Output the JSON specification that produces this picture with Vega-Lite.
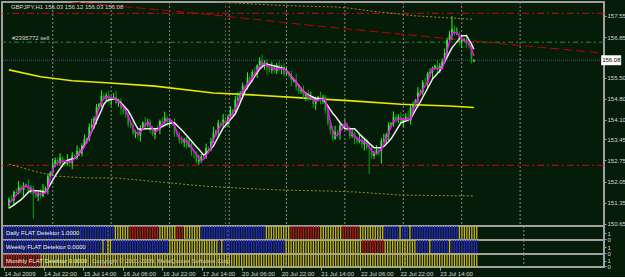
{
"$schema": "https://vega.github.io/schema/vega-lite/v6.json",
"background": "#041c08",
"padding": {"left": 0, "top": 0, "right": 0, "bottom": 0},
"bounds": "flush",
"spacing": 0,
"resolve": {"scale": {"color": "independent", "strokeDash": "independent"}},
"config": {
  "view": {"stroke": "#a0a0a0", "strokeWidth": 2, "fill": "#041c08"},
  "axis": {"labelFont": "Liberation Sans", "labelFontSize": 6, "labelColor": "#d8d8d8", "tickColor": "#a0a0a0", "domain": false, "grid": false, "title": null}
},
"datasets": {
  "grid": [{"i":18},{"i":42},{"i":66},{"i":90.5},{"i":114},{"i":138},{"i":162},{"i":186},{"i":210}],
  "yl": [{"i":0,"p":155.76},{"i":13,"p":155.53},{"i":26,"p":155.40},{"i":40,"p":155.33},{"i":60,"p":155.22},{"i":84,"p":154.99},{"i":100,"p":154.93},{"i":120,"p":154.83},{"i":141,"p":154.73},{"i":161,"p":154.62},{"i":181,"p":154.56},{"i":191,"p":154.51}],
  "ch": [
    {"g":"ru","i":-0.8,"p":158.23},{"g":"ru","i":31.5,"p":157.98},{"g":"ru","i":80,"p":157.62},{"g":"ru","i":120.4,"p":157.27},{"g":"ru","i":160.8,"p":156.95},{"g":"ru","i":201.2,"p":156.64},{"g":"ru","i":242.4,"p":156.33},
    {"g":"ou","i":60,"p":158.15},{"g":"ou","i":92,"p":157.99},{"g":"ou","i":107,"p":157.92},{"g":"ou","i":120,"p":157.88},{"g":"ou","i":134,"p":157.85},{"g":"ou","i":141,"p":157.80},{"g":"ou","i":150,"p":157.70},{"g":"ou","i":160,"p":157.62},{"g":"ou","i":166,"p":157.56},{"g":"ou","i":180,"p":157.49},{"g":"ou","i":191,"p":157.44},
    {"g":"ol","i":0,"p":152.63},{"g":"ol","i":10,"p":152.40},{"g":"ol","i":19,"p":152.23},{"g":"ol","i":32,"p":152.17},{"g":"ol","i":44,"p":152.17},{"g":"ol","i":80,"p":151.90},{"g":"ol","i":95,"p":151.83},{"g":"ol","i":111,"p":151.77},{"g":"ol","i":133,"p":151.73},{"g":"ol","i":143,"p":151.70},{"g":"ol","i":161,"p":151.60},{"g":"ol","i":191,"p":151.57}
  ],
  "bars": [
{"i":0,"o":151.25,"h":151.53,"l":151.15,"c":151.45,"f":151.31,"s":151.17,"d":"b","w":"b","m":"r"},
{"i":1,"o":151.45,"h":151.60,"l":151.36,"c":151.42,"f":151.40,"s":151.22,"d":"b","w":"b","m":"r"},
{"i":2,"o":151.42,"h":151.75,"l":151.26,"c":151.70,"f":151.50,"s":151.27,"d":"b","w":"b","m":"r"},
{"i":3,"o":151.70,"h":151.82,"l":151.59,"c":151.67,"f":151.60,"s":151.33,"d":"b","w":"b","m":"r"},
{"i":4,"o":151.67,"h":152.07,"l":151.62,"c":151.87,"f":151.70,"s":151.39,"d":"b","w":"b","m":"r"},
{"i":5,"o":151.87,"h":151.94,"l":151.64,"c":151.77,"f":151.80,"s":151.45,"d":"b","w":"b","m":"r"},
{"i":6,"o":151.77,"h":152.02,"l":151.57,"c":151.92,"f":151.87,"s":151.53,"d":"b","w":"b","m":"r"},
{"i":7,"o":151.92,"h":151.98,"l":151.85,"c":151.94,"f":151.90,"s":151.61,"d":"b","w":"b","m":"r"},
{"i":8,"o":151.94,"h":152.12,"l":151.63,"c":151.74,"f":151.86,"s":151.70,"d":"b","w":"b","m":"r"},
{"i":9,"o":151.74,"h":151.92,"l":151.65,"c":151.83,"f":151.80,"s":151.74,"d":"b","w":"b","m":"r"},
{"i":10,"o":151.83,"h":151.91,"l":150.82,"c":151.62,"f":151.72,"s":151.74,"d":"b","w":"b","m":"r"},
{"i":11,"o":151.62,"h":151.77,"l":151.50,"c":151.56,"f":151.66,"s":151.74,"d":"b","w":"b","m":"r"},
{"i":12,"o":151.56,"h":151.73,"l":151.40,"c":151.68,"f":151.63,"s":151.74,"d":"b","w":"b","m":"r"},
{"i":13,"o":151.68,"h":151.80,"l":151.49,"c":151.57,"f":151.63,"s":151.73,"d":"b","w":"b","m":"r"},
{"i":14,"o":151.57,"h":151.97,"l":151.52,"c":151.77,"f":151.65,"s":151.71,"d":"b","w":"b","m":"r"},
{"i":15,"o":151.77,"h":151.89,"l":151.64,"c":151.82,"f":151.67,"s":151.70,"d":"b","w":"b","m":"y"},
{"i":16,"o":151.82,"h":152.32,"l":151.62,"c":152.22,"f":151.85,"s":151.82,"d":"b","w":"b","m":"y"},
{"i":17,"o":152.22,"h":152.39,"l":152.15,"c":152.35,"f":152.15,"s":151.96,"d":"b","w":"b","m":"y"},
{"i":18,"o":152.35,"h":152.80,"l":152.24,"c":152.62,"f":152.45,"s":152.10,"d":"b","w":"b","m":"y"},
{"i":19,"o":152.62,"h":152.85,"l":152.53,"c":152.76,"f":152.60,"s":152.24,"d":"b","w":"b","m":"y"},
{"i":20,"o":152.76,"h":152.84,"l":152.56,"c":152.66,"f":152.68,"s":152.36,"d":"b","w":"b","m":"y"},
{"i":21,"o":152.66,"h":152.99,"l":152.60,"c":152.84,"f":152.72,"s":152.48,"d":"b","w":"b","m":"y"},
{"i":22,"o":152.84,"h":152.89,"l":152.52,"c":152.68,"f":152.73,"s":152.59,"d":"b","w":"b","m":"y"},
{"i":23,"o":152.68,"h":152.80,"l":152.55,"c":152.63,"f":152.72,"s":152.69,"d":"b","w":"b","m":"y"},
{"i":24,"o":152.63,"h":152.96,"l":152.58,"c":152.76,"f":152.70,"s":152.75,"d":"b","w":"b","m":"y"},
{"i":25,"o":152.76,"h":152.83,"l":152.53,"c":152.66,"f":152.71,"s":152.78,"d":"b","w":"b","m":"y"},
{"i":26,"o":152.66,"h":153.02,"l":152.46,"c":152.92,"f":152.74,"s":152.80,"d":"b","w":"b","m":"y"},
{"i":27,"o":152.92,"h":152.96,"l":152.82,"c":152.89,"f":152.82,"s":152.82,"d":"b","w":"b","m":"y"},
{"i":28,"o":152.89,"h":153.25,"l":152.78,"c":153.07,"f":152.92,"s":152.88,"d":"b","w":"b","m":"y"},
{"i":29,"o":153.07,"h":153.16,"l":152.89,"c":152.98,"f":153.00,"s":153.00,"d":"b","w":"b","m":"y"},
{"i":30,"o":152.98,"h":153.32,"l":152.88,"c":153.24,"f":153.08,"s":153.12,"d":"b","w":"b","m":"y"},
{"i":31,"o":153.24,"h":153.61,"l":153.18,"c":153.46,"f":153.22,"s":153.25,"d":"b","w":"b","m":"y"},
{"i":32,"o":153.46,"h":153.51,"l":153.30,"c":153.46,"f":153.38,"s":153.38,"d":"b","w":"b","m":"y"},
{"i":33,"o":153.46,"h":153.98,"l":153.38,"c":153.86,"f":153.52,"s":153.55,"d":"b","w":"b","m":"y"},
{"i":34,"o":153.86,"h":154.14,"l":153.81,"c":153.94,"f":153.75,"s":153.72,"d":"b","w":"b","m":"y"},
{"i":35,"o":153.94,"h":154.22,"l":153.81,"c":154.15,"f":153.98,"s":153.88,"d":"b","w":"b","m":"y"},
{"i":36,"o":154.15,"h":154.63,"l":153.95,"c":154.53,"f":154.22,"s":154.06,"d":"b","w":"b","m":"y"},
{"i":37,"o":154.53,"h":154.66,"l":154.46,"c":154.62,"f":154.48,"s":154.24,"d":"b","w":"b","m":"y"},
{"i":38,"o":154.62,"h":155.08,"l":154.51,"c":154.90,"f":154.70,"s":154.42,"d":"b","w":"b","m":"y"},
{"i":39,"o":154.90,"h":154.99,"l":154.74,"c":154.83,"f":154.80,"s":154.62,"d":"b","w":"b","m":"y"},
{"i":40,"o":154.83,"h":155.00,"l":154.73,"c":154.92,"f":154.86,"s":154.72,"d":"b","w":"y","m":"y"},
{"i":41,"o":154.92,"h":155.07,"l":154.67,"c":154.73,"f":154.85,"s":154.76,"d":"b","w":"b","m":"y"},
{"i":42,"o":154.73,"h":154.88,"l":154.57,"c":154.83,"f":154.83,"s":154.78,"d":"b","w":"y","m":"y"},
{"i":43,"o":154.83,"h":154.99,"l":154.75,"c":154.87,"f":154.81,"s":154.79,"d":"b","w":"y","m":"y"},
{"i":44,"o":154.87,"h":155.07,"l":154.61,"c":154.66,"f":154.79,"s":154.79,"d":"b","w":"b","m":"y"},
{"i":45,"o":154.66,"h":154.80,"l":154.53,"c":154.73,"f":154.72,"s":154.74,"d":"y","w":"b","m":"y"},
{"i":46,"o":154.73,"h":154.83,"l":154.27,"c":154.47,"f":154.62,"s":154.66,"d":"y","w":"b","m":"y"},
{"i":47,"o":154.47,"h":154.51,"l":154.26,"c":154.33,"f":154.51,"s":154.58,"d":"y","w":"b","m":"y"},
{"i":48,"o":154.33,"h":154.51,"l":154.16,"c":154.27,"f":154.40,"s":154.49,"d":"y","w":"b","m":"y"},
{"i":49,"o":154.27,"h":154.36,"l":153.85,"c":153.94,"f":154.22,"s":154.40,"d":"y","w":"b","m":"y"},
{"i":50,"o":153.94,"h":154.02,"l":153.82,"c":153.92,"f":154.02,"s":154.26,"d":"y","w":"b","m":"y"},
{"i":51,"o":153.92,"h":154.07,"l":153.59,"c":153.65,"f":153.82,"s":154.10,"d":"r","w":"b","m":"y"},
{"i":52,"o":153.65,"h":153.75,"l":153.49,"c":153.70,"f":153.68,"s":153.94,"d":"r","w":"b","m":"y"},
{"i":53,"o":153.70,"h":153.82,"l":153.45,"c":153.58,"f":153.63,"s":153.80,"d":"r","w":"b","m":"y"},
{"i":54,"o":153.58,"h":153.92,"l":153.38,"c":153.82,"f":153.68,"s":153.79,"d":"r","w":"b","m":"y"},
{"i":55,"o":153.82,"h":154.05,"l":153.75,"c":154.01,"f":153.80,"s":153.79,"d":"r","w":"b","m":"y"},
{"i":56,"o":154.01,"h":154.19,"l":153.83,"c":153.94,"f":153.93,"s":153.80,"d":"r","w":"b","m":"y"},
{"i":57,"o":153.94,"h":154.13,"l":153.85,"c":154.04,"f":154.00,"s":153.80,"d":"r","w":"b","m":"y"},
{"i":58,"o":154.04,"h":154.12,"l":153.66,"c":153.76,"f":153.93,"s":153.80,"d":"r","w":"b","m":"y"},
{"i":59,"o":153.76,"h":153.91,"l":153.55,"c":153.61,"f":153.80,"s":153.80,"d":"r","w":"b","m":"y"},
{"i":60,"o":153.61,"h":153.84,"l":153.45,"c":153.79,"f":153.68,"s":153.80,"d":"r","w":"b","m":"y"},
{"i":61,"o":153.79,"h":153.94,"l":153.72,"c":153.78,"f":153.74,"s":153.80,"d":"r","w":"b","m":"y"},
{"i":62,"o":153.78,"h":154.11,"l":153.62,"c":154.06,"f":153.86,"s":153.84,"d":"r","w":"b","m":"y"},
{"i":63,"o":154.06,"h":154.18,"l":153.93,"c":154.01,"f":153.96,"s":153.88,"d":"y","w":"b","m":"y"},
{"i":64,"o":154.01,"h":154.37,"l":153.96,"c":154.17,"f":154.04,"s":153.92,"d":"y","w":"b","m":"y"},
{"i":65,"o":154.17,"h":154.24,"l":153.90,"c":154.03,"f":154.10,"s":153.96,"d":"y","w":"b","m":"y"},
{"i":66,"o":154.03,"h":154.17,"l":153.83,"c":154.07,"f":154.13,"s":153.98,"d":"y","w":"b","m":"y"},
{"i":67,"o":154.07,"h":154.11,"l":153.91,"c":153.98,"f":154.05,"s":154.00,"d":"y","w":"y","m":"y"},
{"i":68,"o":153.98,"h":154.16,"l":153.53,"c":153.64,"f":153.90,"s":154.00,"d":"y","w":"y","m":"y"},
{"i":69,"o":153.64,"h":153.73,"l":153.52,"c":153.61,"f":153.70,"s":153.92,"d":"y","w":"y","m":"y"},
{"i":70,"o":153.61,"h":153.69,"l":153.31,"c":153.41,"f":153.50,"s":153.84,"d":"r","w":"y","m":"y"},
{"i":71,"o":153.41,"h":153.56,"l":153.29,"c":153.35,"f":153.45,"s":153.76,"d":"r","w":"y","m":"y"},
{"i":72,"o":153.35,"h":153.50,"l":153.19,"c":153.45,"f":153.42,"s":153.67,"d":"r","w":"y","m":"y"},
{"i":73,"o":153.45,"h":153.57,"l":153.14,"c":153.22,"f":153.40,"s":153.58,"d":"y","w":"y","m":"y"},
{"i":74,"o":153.22,"h":153.48,"l":153.17,"c":153.28,"f":153.30,"s":153.49,"d":"y","w":"y","m":"y"},
{"i":75,"o":153.28,"h":153.35,"l":152.91,"c":153.04,"f":153.18,"s":153.40,"d":"y","w":"y","m":"y"},
{"i":76,"o":153.04,"h":153.14,"l":152.82,"c":153.02,"f":153.07,"s":153.30,"d":"y","w":"y","m":"y"},
{"i":77,"o":153.02,"h":153.06,"l":152.65,"c":152.72,"f":152.95,"s":153.21,"d":"y","w":"y","m":"y"},
{"i":78,"o":152.72,"h":152.94,"l":152.61,"c":152.76,"f":152.82,"s":153.12,"d":"y","w":"y","m":"y"},
{"i":79,"o":152.76,"h":152.97,"l":152.67,"c":152.88,"f":152.74,"s":153.02,"d":"y","w":"y","m":"y"},
{"i":80,"o":152.88,"h":152.96,"l":152.76,"c":152.86,"f":152.80,"s":152.93,"d":"b","w":"y","m":"y"},
{"i":81,"o":152.86,"h":153.31,"l":152.80,"c":153.16,"f":152.92,"s":152.99,"d":"b","w":"y","m":"y"},
{"i":82,"o":153.16,"h":153.21,"l":152.97,"c":153.13,"f":153.05,"s":153.07,"d":"b","w":"y","m":"y"},
{"i":83,"o":153.13,"h":153.50,"l":153.05,"c":153.38,"f":153.17,"s":153.15,"d":"b","w":"y","m":"y"},
{"i":84,"o":153.38,"h":153.87,"l":153.33,"c":153.67,"f":153.45,"s":153.23,"d":"b","w":"y","m":"y"},
{"i":85,"o":153.67,"h":153.77,"l":153.54,"c":153.70,"f":153.62,"s":153.38,"d":"b","w":"y","m":"y"},
{"i":86,"o":153.70,"h":154.10,"l":153.50,"c":154.00,"f":153.78,"s":153.53,"d":"b","w":"y","m":"y"},
{"i":87,"o":154.00,"h":154.04,"l":153.90,"c":153.97,"f":153.90,"s":153.68,"d":"b","w":"b","m":"y"},
{"i":88,"o":153.97,"h":154.29,"l":153.86,"c":154.11,"f":154.00,"s":153.83,"d":"b","w":"y","m":"y"},
{"i":89,"o":154.11,"h":154.20,"l":153.87,"c":153.96,"f":154.04,"s":153.92,"d":"b","w":"b","m":"y"},
{"i":90,"o":153.96,"h":154.28,"l":153.86,"c":154.20,"f":154.06,"s":154.02,"d":"b","w":"b","m":"y"},
{"i":91,"o":154.20,"h":154.55,"l":154.14,"c":154.40,"f":154.18,"s":154.11,"d":"b","w":"b","m":"y"},
{"i":92,"o":154.40,"h":154.45,"l":154.24,"c":154.40,"f":154.32,"s":154.20,"d":"b","w":"b","m":"y"},
{"i":93,"o":154.40,"h":154.89,"l":154.32,"c":154.77,"f":154.46,"s":154.30,"d":"b","w":"b","m":"y"},
{"i":94,"o":154.77,"h":155.02,"l":154.72,"c":154.82,"f":154.66,"s":154.48,"d":"b","w":"b","m":"y"},
{"i":95,"o":154.82,"h":155.06,"l":154.69,"c":154.99,"f":154.86,"s":154.67,"d":"b","w":"b","m":"y"},
{"i":96,"o":154.99,"h":155.33,"l":154.79,"c":155.23,"f":155.06,"s":154.86,"d":"b","w":"b","m":"y"},
{"i":97,"o":155.23,"h":155.27,"l":155.15,"c":155.22,"f":155.18,"s":155.06,"d":"b","w":"b","m":"y"},
{"i":98,"o":155.22,"h":155.68,"l":155.11,"c":155.50,"f":155.30,"s":155.18,"d":"b","w":"b","m":"y"},
{"i":99,"o":155.50,"h":155.59,"l":155.37,"c":155.46,"f":155.40,"s":155.30,"d":"b","w":"b","m":"y"},
{"i":100,"o":155.46,"h":155.77,"l":155.36,"c":155.69,"f":155.49,"s":155.42,"d":"b","w":"b","m":"y"},
{"i":101,"o":155.69,"h":155.84,"l":155.59,"c":155.65,"f":155.62,"s":155.55,"d":"b","w":"b","m":"y"},
{"i":102,"o":155.65,"h":155.95,"l":155.49,"c":155.90,"f":155.75,"s":155.67,"d":"b","w":"b","m":"y"},
{"i":103,"o":155.90,"h":156.19,"l":155.82,"c":156.07,"f":155.88,"s":155.79,"d":"b","w":"b","m":"y"},
{"i":104,"o":156.07,"h":156.27,"l":155.85,"c":155.90,"f":155.99,"s":155.86,"d":"b","w":"b","m":"y"},
{"i":105,"o":155.90,"h":156.08,"l":155.77,"c":156.01,"f":155.96,"s":155.93,"d":"b","w":"b","m":"y"},
{"i":106,"o":156.01,"h":156.11,"l":155.61,"c":155.81,"f":155.90,"s":155.95,"d":"y","w":"b","m":"y"},
{"i":107,"o":155.81,"h":155.85,"l":155.68,"c":155.75,"f":155.85,"s":155.93,"d":"y","w":"b","m":"y"},
{"i":108,"o":155.75,"h":156.03,"l":155.64,"c":155.85,"f":155.82,"s":155.91,"d":"y","w":"b","m":"y"},
{"i":109,"o":155.85,"h":155.94,"l":155.63,"c":155.72,"f":155.80,"s":155.89,"d":"y","w":"b","m":"y"},
{"i":110,"o":155.72,"h":155.99,"l":155.62,"c":155.91,"f":155.80,"s":155.87,"d":"y","w":"b","m":"y"},
{"i":111,"o":155.91,"h":156.06,"l":155.71,"c":155.77,"f":155.81,"s":155.85,"d":"y","w":"b","m":"y"},
{"i":112,"o":155.77,"h":155.91,"l":155.61,"c":155.86,"f":155.80,"s":155.82,"d":"y","w":"b","m":"y"},
{"i":113,"o":155.86,"h":155.98,"l":155.54,"c":155.62,"f":155.79,"s":155.80,"d":"y","w":"b","m":"y"},
{"i":114,"o":155.62,"h":155.85,"l":155.57,"c":155.65,"f":155.72,"s":155.74,"d":"y","w":"y","m":"y"},
{"i":115,"o":155.65,"h":155.72,"l":155.50,"c":155.63,"f":155.63,"s":155.64,"d":"y","w":"y","m":"y"},
{"i":116,"o":155.63,"h":155.73,"l":155.21,"c":155.41,"f":155.55,"s":155.54,"d":"r","w":"y","m":"y"},
{"i":117,"o":155.41,"h":155.48,"l":155.34,"c":155.44,"f":155.47,"s":155.44,"d":"r","w":"y","m":"y"},
{"i":118,"o":155.44,"h":155.62,"l":155.07,"c":155.18,"f":155.33,"s":155.34,"d":"r","w":"y","m":"y"},
{"i":119,"o":155.18,"h":155.27,"l":154.97,"c":155.06,"f":155.22,"s":155.24,"d":"r","w":"y","m":"y"},
{"i":120,"o":155.06,"h":155.17,"l":154.96,"c":155.09,"f":155.13,"s":155.14,"d":"r","w":"y","m":"y"},
{"i":121,"o":155.09,"h":155.24,"l":154.82,"c":154.88,"f":155.04,"s":155.04,"d":"r","w":"y","m":"y"},
{"i":122,"o":154.88,"h":155.04,"l":154.72,"c":154.99,"f":154.96,"s":154.97,"d":"r","w":"y","m":"y"},
{"i":123,"o":154.99,"h":155.11,"l":154.72,"c":154.80,"f":154.89,"s":154.93,"d":"r","w":"y","m":"y"},
{"i":124,"o":154.80,"h":155.04,"l":154.75,"c":154.84,"f":154.83,"s":154.89,"d":"r","w":"y","m":"y"},
{"i":125,"o":154.84,"h":154.91,"l":154.50,"c":154.63,"f":154.77,"s":154.85,"d":"r","w":"y","m":"y"},
{"i":126,"o":154.63,"h":154.87,"l":154.43,"c":154.77,"f":154.73,"s":154.82,"d":"r","w":"y","m":"y"},
{"i":127,"o":154.77,"h":154.90,"l":154.70,"c":154.86,"f":154.75,"s":154.81,"d":"r","w":"y","m":"y"},
{"i":128,"o":154.86,"h":155.04,"l":154.61,"c":154.72,"f":154.78,"s":154.80,"d":"y","w":"y","m":"y"},
{"i":129,"o":154.72,"h":154.94,"l":154.63,"c":154.85,"f":154.78,"s":154.79,"d":"y","w":"y","m":"y"},
{"i":130,"o":154.85,"h":154.93,"l":154.31,"c":154.41,"f":154.74,"s":154.68,"d":"y","w":"y","m":"y"},
{"i":131,"o":154.41,"h":154.56,"l":153.92,"c":153.98,"f":154.45,"s":154.56,"d":"y","w":"y","m":"y"},
{"i":132,"o":153.98,"h":154.03,"l":153.61,"c":153.77,"f":154.05,"s":154.44,"d":"y","w":"y","m":"y"},
{"i":133,"o":153.77,"h":153.89,"l":153.40,"c":153.48,"f":153.72,"s":154.32,"d":"y","w":"y","m":"y"},
{"i":134,"o":153.48,"h":153.90,"l":153.43,"c":153.70,"f":153.56,"s":154.23,"d":"y","w":"y","m":"y"},
{"i":135,"o":153.70,"h":153.77,"l":153.51,"c":153.64,"f":153.60,"s":154.12,"d":"y","w":"y","m":"y"},
{"i":136,"o":153.64,"h":154.02,"l":153.44,"c":153.92,"f":153.67,"s":154.01,"d":"y","w":"y","m":"y"},
{"i":137,"o":153.92,"h":153.96,"l":153.83,"c":153.90,"f":153.85,"s":153.90,"d":"r","w":"y","m":"y"},
{"i":138,"o":153.90,"h":154.10,"l":153.79,"c":153.92,"f":154.00,"s":153.80,"d":"r","w":"y","m":"y"},
{"i":139,"o":153.92,"h":154.01,"l":153.71,"c":153.80,"f":153.90,"s":153.80,"d":"r","w":"y","m":"y"},
{"i":140,"o":153.80,"h":153.88,"l":153.46,"c":153.56,"f":153.72,"s":153.80,"d":"r","w":"y","m":"y"},
{"i":141,"o":153.56,"h":153.81,"l":153.50,"c":153.66,"f":153.62,"s":153.80,"d":"r","w":"y","m":"y"},
{"i":142,"o":153.66,"h":153.71,"l":153.28,"c":153.44,"f":153.55,"s":153.80,"d":"r","w":"y","m":"y"},
{"i":143,"o":153.44,"h":153.56,"l":153.29,"c":153.37,"f":153.48,"s":153.72,"d":"r","w":"y","m":"y"},
{"i":144,"o":153.37,"h":153.65,"l":153.32,"c":153.45,"f":153.44,"s":153.63,"d":"y","w":"y","m":"y"},
{"i":145,"o":153.45,"h":153.52,"l":153.15,"c":153.28,"f":153.40,"s":153.55,"d":"y","w":"r","m":"y"},
{"i":146,"o":153.28,"h":153.51,"l":153.08,"c":153.41,"f":153.36,"s":153.47,"d":"y","w":"r","m":"y"},
{"i":147,"o":153.41,"h":153.45,"l":153.10,"c":153.17,"f":153.31,"s":153.40,"d":"y","w":"r","m":"y"},
{"i":148,"o":153.17,"h":153.35,"l":152.30,"c":153.15,"f":153.20,"s":153.32,"d":"y","w":"r","m":"y"},
{"i":149,"o":153.15,"h":153.24,"l":152.81,"c":152.90,"f":153.08,"s":153.25,"d":"y","w":"r","m":"y"},
{"i":150,"o":152.90,"h":153.07,"l":152.80,"c":152.99,"f":153.00,"s":153.17,"d":"y","w":"r","m":"y"},
{"i":151,"o":152.99,"h":153.26,"l":152.93,"c":153.11,"f":152.97,"s":153.17,"d":"y","w":"r","m":"y"},
{"i":152,"o":153.11,"h":153.15,"l":152.91,"c":153.07,"f":153.03,"s":153.17,"d":"y","w":"r","m":"y"},
{"i":153,"o":153.07,"h":153.50,"l":152.64,"c":153.41,"f":153.13,"s":153.17,"d":"y","w":"r","m":"y"},
{"i":154,"o":153.41,"h":153.64,"l":153.36,"c":153.44,"f":153.30,"s":153.22,"d":"b","w":"y","m":"y"},
{"i":155,"o":153.44,"h":153.67,"l":153.31,"c":153.60,"f":153.48,"s":153.30,"d":"b","w":"y","m":"y"},
{"i":156,"o":153.60,"h":154.03,"l":153.40,"c":153.93,"f":153.67,"s":153.38,"d":"b","w":"y","m":"y"},
{"i":157,"o":153.93,"h":154.02,"l":153.86,"c":153.98,"f":153.88,"s":153.47,"d":"b","w":"y","m":"y"},
{"i":158,"o":153.98,"h":154.38,"l":153.87,"c":154.20,"f":154.06,"s":153.60,"d":"b","w":"y","m":"y"},
{"i":159,"o":154.20,"h":154.29,"l":154.00,"c":154.09,"f":154.10,"s":153.73,"d":"b","w":"y","m":"y"},
{"i":160,"o":154.09,"h":154.28,"l":153.99,"c":154.20,"f":154.12,"s":153.87,"d":"y","w":"y","m":"y"},
{"i":161,"o":154.20,"h":154.35,"l":153.96,"c":154.02,"f":154.13,"s":154.00,"d":"b","w":"y","m":"y"},
{"i":162,"o":154.02,"h":154.18,"l":153.86,"c":154.13,"f":154.12,"s":154.03,"d":"b","w":"y","m":"y"},
{"i":163,"o":154.13,"h":154.32,"l":154.05,"c":154.20,"f":154.11,"s":154.06,"d":"b","w":"y","m":"y"},
{"i":164,"o":154.20,"h":154.40,"l":154.02,"c":154.07,"f":154.12,"s":154.10,"d":"y","w":"y","m":"y"},
{"i":165,"o":154.07,"h":154.60,"l":153.94,"c":154.51,"f":154.13,"s":154.13,"d":"b","w":"y","m":"y"},
{"i":166,"o":154.51,"h":154.70,"l":154.31,"c":154.60,"f":154.40,"s":154.28,"d":"b","w":"y","m":"y"},
{"i":167,"o":154.60,"h":154.79,"l":154.53,"c":154.75,"f":154.64,"s":154.43,"d":"b","w":"b","m":"y"},
{"i":168,"o":154.75,"h":155.19,"l":154.64,"c":155.01,"f":154.82,"s":154.56,"d":"b","w":"b","m":"y"},
{"i":169,"o":155.01,"h":155.11,"l":154.92,"c":155.02,"f":154.96,"s":154.70,"d":"b","w":"b","m":"y"},
{"i":170,"o":155.02,"h":155.42,"l":154.92,"c":155.34,"f":155.10,"s":154.85,"d":"b","w":"b","m":"y"},
{"i":171,"o":155.34,"h":155.49,"l":155.27,"c":155.33,"f":155.24,"s":155.00,"d":"b","w":"b","m":"y"},
{"i":172,"o":155.33,"h":155.70,"l":155.17,"c":155.65,"f":155.36,"s":155.15,"d":"b","w":"y","m":"y"},
{"i":173,"o":155.65,"h":155.81,"l":155.52,"c":155.69,"f":155.58,"s":155.30,"d":"b","w":"b","m":"y"},
{"i":174,"o":155.69,"h":155.87,"l":155.49,"c":155.83,"f":155.79,"s":155.46,"d":"b","w":"b","m":"y"},
{"i":175,"o":155.83,"h":155.94,"l":155.76,"c":155.90,"f":155.81,"s":155.55,"d":"b","w":"b","m":"y"},
{"i":176,"o":155.90,"h":156.08,"l":155.64,"c":155.75,"f":155.82,"s":155.64,"d":"b","w":"b","m":"y"},
{"i":177,"o":155.75,"h":155.99,"l":155.66,"c":155.90,"f":155.81,"s":155.72,"d":"b","w":"b","m":"y"},
{"i":178,"o":155.90,"h":156.14,"l":155.84,"c":156.04,"f":155.79,"s":155.87,"d":"b","w":"b","m":"y"},
{"i":179,"o":156.04,"h":156.47,"l":155.98,"c":156.32,"f":156.08,"s":156.03,"d":"b","w":"b","m":"y"},
{"i":180,"o":156.32,"h":156.83,"l":156.16,"c":156.75,"f":156.39,"s":156.18,"d":"b","w":"y","m":"y"},
{"i":181,"o":156.75,"h":157.06,"l":156.69,"c":156.91,"f":156.70,"s":156.34,"d":"b","w":"b","m":"y"},
{"i":182,"o":156.91,"h":157.55,"l":156.75,"c":157.11,"f":156.99,"s":156.49,"d":"b","w":"b","m":"y"},
{"i":183,"o":157.11,"h":157.23,"l":156.88,"c":156.96,"f":157.01,"s":156.59,"d":"b","w":"b","m":"y"},
{"i":184,"o":156.96,"h":157.17,"l":156.91,"c":156.97,"f":156.99,"s":156.69,"d":"y","w":"b","m":"y"},
{"i":185,"o":156.97,"h":157.04,"l":156.56,"c":156.69,"f":156.90,"s":156.79,"d":"y","w":"b","m":"y"},
{"i":186,"o":156.69,"h":156.86,"l":156.49,"c":156.76,"f":156.79,"s":156.89,"d":"y","w":"b","m":"y"},
{"i":187,"o":156.76,"h":156.82,"l":156.69,"c":156.78,"f":156.74,"s":156.89,"d":"y","w":"b","m":"y"},
{"i":188,"o":156.78,"h":156.96,"l":156.49,"c":156.60,"f":156.70,"s":156.89,"d":"y","w":"b","m":"y"},
{"i":189,"o":156.60,"h":156.69,"l":156.47,"c":156.56,"f":156.66,"s":156.76,"d":"y","w":"b","m":"y"},
{"i":190,"o":156.56,"h":156.66,"l":155.98,"c":156.05,"f":156.45,"s":156.62,"d":"y","w":"b","m":"y"},
{"i":191,"o":156.03,"h":156.12,"l":156.03,"c":156.08,"f":156.22,"s":156.45,"d":"y","w":"b","m":"y"}
  ]
},
"vconcat": [
  {
    "width": 602, "height": 224,
    "resolve": {"axis": {"x": "independent", "y": "independent"}},
    "layer": [
      {"data": {"name": "grid"}, "mark": {"type": "rule", "color": "#8a8a8a", "strokeDash": [2,2], "strokeWidth": 1},
       "encoding": {"x": {"field": "i", "type": "quantitative", "scale": {"domain": [-0.8, 242.4], "nice": false, "zero": false}, "axis": null}}},
      {"data": {"values": [{"i": 89}]}, "mark": {"type": "rule", "color": "#5c5c5c", "strokeDash": [2,2], "strokeWidth": 1},
       "encoding": {"x": {"field": "i", "type": "quantitative", "scale": {"domain": [-0.8, 242.4], "nice": false, "zero": false}, "axis": null}}},
      {"data": {"values": [{"p": 157.64}, {"p": 152.59}]}, "mark": {"type": "rule", "color": "#c80c0c", "strokeDash": [7,3,2,3], "strokeWidth": 1},
       "encoding": {"y": {"field": "p", "type": "quantitative", "scale": {"domain": [150.573, 158.015], "nice": false, "zero": false}, "axis": null}}},
      {"data": {"values": [{"p": 156.68}]}, "mark": {"type": "rule", "color": "#2a8c2a", "strokeDash": [5,3,2,3], "strokeWidth": 1},
       "encoding": {"y": {"field": "p", "type": "quantitative", "scale": {"domain": [150.573, 158.015], "nice": false, "zero": false}, "axis": null}}},
      {"data": {"values": [{"p": 156.08}]}, "mark": {"type": "rule", "color": "#50508c", "strokeDash": [1,1], "strokeWidth": 1},
       "encoding": {"y": {"field": "p", "type": "quantitative", "scale": {"domain": [150.573, 158.015], "nice": false, "zero": false}, "axis": null}}},
      {"data": {"name": "ch"}, "mark": {"type": "line", "clip": true, "strokeWidth": 1},
       "encoding": {
         "x": {"field": "i", "type": "quantitative", "scale": {"domain": [-0.8, 242.4], "nice": false, "zero": false}, "axis": null},
         "y": {"field": "p", "type": "quantitative", "scale": {"domain": [150.573, 158.015], "nice": false, "zero": false}, "axis": null},
         "color": {"field": "g", "type": "nominal", "scale": {"domain": ["ru","ou","ol"], "range": ["#c00000","#a08a28","#a08a28"]}, "legend": null},
         "strokeDash": {"field": "g", "type": "nominal", "scale": {"domain": ["ru","ou","ol"], "range": [[9,4],[2,2],[2,2]]}, "legend": null}}},
      {"data": {"name": "yl"}, "mark": {"type": "line", "clip": true, "color": "#e8e800", "strokeWidth": 1.6},
       "encoding": {
         "x": {"field": "i", "type": "quantitative", "scale": {"domain": [-0.8, 242.4], "nice": false, "zero": false}, "axis": null},
         "y": {"field": "p", "type": "quantitative", "scale": {"domain": [150.573, 158.015], "nice": false, "zero": false}, "axis": null}}},
      {"data": {"name": "bars"}, "mark": {"type": "rule", "strokeWidth": 1, "clip": true},
       "encoding": {
         "x": {"field": "i", "type": "quantitative", "scale": {"domain": [-0.8, 242.4], "nice": false, "zero": false}, "axis": null},
         "y": {"field": "l", "type": "quantitative", "scale": {"domain": [150.573, 158.015], "nice": false, "zero": false},
               "axis": {"orient": "right", "title": null, "values": [157.55,156.85,155.50,154.80,154.10,153.45,152.75,152.05,151.35,150.65], "format": ".2f", "tickSize": 2, "labelPadding": 1, "labelBaseline": "middle"}},
         "y2": {"field": "h"},
         "color": {"condition": {"test": "datum.c >= datum.o", "value": "#33f033"}, "value": "#129c12"}}},
      {"data": {"name": "bars"}, "mark": {"type": "bar", "size": 1.8, "clip": true},
       "encoding": {
         "x": {"field": "i", "type": "quantitative", "scale": {"domain": [-0.8, 242.4], "nice": false, "zero": false}, "axis": null},
         "y": {"field": "o", "type": "quantitative", "scale": {"domain": [150.573, 158.015], "nice": false, "zero": false}, "axis": null},
         "y2": {"field": "c"},
         "color": {"condition": {"test": "datum.c >= datum.o", "value": "#33f033"}, "value": "#129c12"}}},
      {"data": {"name": "bars"}, "mark": {"type": "line", "color": "#ececec", "strokeWidth": 1.5, "clip": true},
       "encoding": {
         "x": {"field": "i", "type": "quantitative", "scale": {"domain": [-0.8, 242.4], "nice": false, "zero": false}, "axis": null},
         "y": {"field": "s", "type": "quantitative", "scale": {"domain": [150.573, 158.015], "nice": false, "zero": false}, "axis": null}}},
      {"data": {"name": "bars"}, "mark": {"type": "line", "color": "#ff00ff", "strokeWidth": 1.5, "clip": true},
       "encoding": {
         "x": {"field": "i", "type": "quantitative", "scale": {"domain": [-0.8, 242.4], "nice": false, "zero": false}, "axis": null},
         "y": {"field": "f", "type": "quantitative", "scale": {"domain": [150.573, 158.015], "nice": false, "zero": false}, "axis": null}}},
      {"data": {"values": [{"t": "GBPJPY,H1  156.03 156.12 156.03 156.08", "p": 157.86}]}, "mark": {"type": "text", "align": "left", "baseline": "middle", "dx": 2, "font": "Liberation Sans", "fontSize": 6, "color": "#d8d8d8"},
       "encoding": {
         "x": {"datum": 0, "type": "quantitative", "scale": {"domain": [-0.8, 242.4], "nice": false, "zero": false}, "axis": null},
         "y": {"field": "p", "type": "quantitative", "scale": {"domain": [150.573, 158.015], "nice": false, "zero": false}, "axis": null},
         "text": {"field": "t"}}},
      {"data": {"values": [{"t": "#2395772 sell", "p": 156.82}]}, "mark": {"type": "text", "align": "left", "baseline": "middle", "dx": 3, "font": "Liberation Sans", "fontSize": 6, "color": "#d8d8d8"},
       "encoding": {
         "x": {"datum": 0, "type": "quantitative", "scale": {"domain": [-0.8, 242.4], "nice": false, "zero": false}, "axis": null},
         "y": {"field": "p", "type": "quantitative", "scale": {"domain": [150.573, 158.015], "nice": false, "zero": false}, "axis": null},
         "text": {"field": "t"}}},
      {"data": {"values": [{"p": 156.08}]}, "mark": {"type": "rect", "color": "#ffffff"},
       "encoding": {
         "x": {"datum": 243.3, "type": "quantitative", "scale": {"domain": [-0.8, 242.4], "nice": false, "zero": false}, "axis": null},
         "x2": {"datum": 251.5},
         "y": {"datum": 156.245, "type": "quantitative", "scale": {"domain": [150.573, 158.015], "nice": false, "zero": false}, "axis": null},
         "y2": {"datum": 155.915}}},
      {"data": {"values": [{"p": 156.08, "t": "156.08"}]}, "mark": {"type": "text", "align": "left", "baseline": "middle", "dx": 1, "font": "Liberation Sans", "fontSize": 6, "color": "#000000"},
       "encoding": {
         "x": {"datum": 243.3, "type": "quantitative", "scale": {"domain": [-0.8, 242.4], "nice": false, "zero": false}, "axis": null},
         "y": {"field": "p", "type": "quantitative", "scale": {"domain": [150.573, 158.015], "nice": false, "zero": false}, "axis": null},
         "text": {"field": "t"}}}
    ]
  },
  {
    "width": 602, "height": 14,
    "resolve": {"axis": {"x": "independent", "y": "independent"}},
    "layer": [
      {"data": {"name": "grid"}, "mark": {"type": "rule", "color": "#8a8a8a", "strokeDash": [2,2], "strokeWidth": 1},
       "encoding": {"x": {"field": "i", "type": "quantitative", "scale": {"domain": [-0.8, 242.4], "nice": false, "zero": false}, "axis": null}}},
      {"data": {"name": "bars"}, "mark": {"type": "rule", "strokeWidth": 1.3},
       "encoding": {
         "x": {"field": "i", "type": "quantitative", "scale": {"domain": [-0.8, 242.4], "nice": false, "zero": false}, "axis": null},
         "color": {"field": "d", "type": "nominal", "scale": {"domain": ["b","r","y"], "range": ["#2828c8","#c01818","#c8b428"]}, "legend": null}}},
      {"data": {"values": [{"t": "Daily FLAT Detektor 1.0000"}]}, "mark": {"type": "text", "align": "left", "baseline": "middle", "dx": 2, "font": "Liberation Sans", "fontSize": 6, "color": "#f0f0f0"},
       "encoding": {
         "x": {"datum": 0, "type": "quantitative", "scale": {"domain": [-0.8, 242.4], "nice": false, "zero": false}, "axis": null},
         "y": {"datum": 0.5, "type": "quantitative", "scale": {"domain": [0, 1], "nice": false, "zero": false},
               "axis": {"orient": "right", "values": [0.5, 0.05], "labelExpr": "datum.value > 0.3 ? '1' : '0'", "tickSize": 2, "labelPadding": 1}},
         "text": {"field": "t"}}}
    ]
  },
  {
    "width": 602, "height": 14,
    "resolve": {"axis": {"x": "independent", "y": "independent"}},
    "layer": [
      {"data": {"name": "grid"}, "mark": {"type": "rule", "color": "#8a8a8a", "strokeDash": [2,2], "strokeWidth": 1},
       "encoding": {"x": {"field": "i", "type": "quantitative", "scale": {"domain": [-0.8, 242.4], "nice": false, "zero": false}, "axis": null}}},
      {"data": {"name": "bars"}, "mark": {"type": "rule", "strokeWidth": 1.3},
       "encoding": {
         "x": {"field": "i", "type": "quantitative", "scale": {"domain": [-0.8, 242.4], "nice": false, "zero": false}, "axis": null},
         "color": {"field": "w", "type": "nominal", "scale": {"domain": ["b","r","y"], "range": ["#2828c8","#c01818","#c8b428"]}, "legend": null}}},
      {"data": {"values": [{"t": "Weekly FLAT Detektor 0.0000"}]}, "mark": {"type": "text", "align": "left", "baseline": "middle", "dx": 2, "font": "Liberation Sans", "fontSize": 6, "color": "#f0f0f0"},
       "encoding": {
         "x": {"datum": 0, "type": "quantitative", "scale": {"domain": [-0.8, 242.4], "nice": false, "zero": false}, "axis": null},
         "y": {"datum": 0.5, "type": "quantitative", "scale": {"domain": [0, 1], "nice": false, "zero": false},
               "axis": {"orient": "right", "values": [0.5, 0.05], "labelExpr": "datum.value > 0.3 ? '1' : '0'", "tickSize": 2, "labelPadding": 1}},
         "text": {"field": "t"}}}
    ]
  },
  {
    "width": 602, "height": 13,
    "resolve": {"axis": {"x": "independent", "y": "independent"}},
    "layer": [
      {"data": {"name": "grid"}, "mark": {"type": "rule", "color": "#8a8a8a", "strokeDash": [2,2], "strokeWidth": 1},
       "encoding": {"x": {"field": "i", "type": "quantitative", "scale": {"domain": [-0.8, 242.4], "nice": false, "zero": false}, "axis": null}}},
      {"data": {"name": "bars"}, "mark": {"type": "rule", "strokeWidth": 1.3},
       "encoding": {
         "x": {"field": "i", "type": "quantitative", "scale": {"domain": [-0.8, 242.4], "nice": false, "zero": false},
               "axis": {"orient": "bottom", "title": null, "values": [0,16,32,48,64,80,96,112,128,144,160,176], "labelExpr": "['14 Jul 2009','14 Jul 22:00','15 Jul 14:00','16 Jul 06:00','16 Jul 22:00','17 Jul 14:00','20 Jul 06:00','20 Jul 22:00','21 Jul 14:00','22 Jul 06:00','22 Jul 22:00','23 Jul 14:00'][round(datum.value/16)]", "labelAlign": "left", "labelFlush": false, "labelOverlap": false, "tickSize": 3, "labelPadding": 0, "labelBaseline": "top"}},
         "color": {"field": "m", "type": "nominal", "scale": {"domain": ["b","r","y"], "range": ["#2828c8","#c01818","#c8b428"]}, "legend": null}}},
      {"data": {"values": [{"t": "Monthly FLAT Detektor 0.0000"}]}, "mark": {"type": "text", "align": "left", "baseline": "middle", "dx": 2, "font": "Liberation Sans", "fontSize": 6, "color": "#f0f0f0"},
       "encoding": {
         "x": {"datum": 0, "type": "quantitative", "scale": {"domain": [-0.8, 242.4], "nice": false, "zero": false}, "axis": null},
         "y": {"datum": 0.5, "type": "quantitative", "scale": {"domain": [0, 1], "nice": false, "zero": false},
               "axis": {"orient": "right", "values": [0.5, 0.05], "labelExpr": "datum.value > 0.3 ? '1' : '0'", "tickSize": 2, "labelPadding": 1}},
         "text": {"field": "t"}}},
      {"data": {"values": [{"t": "Copyright © 2001-2009, MetaQuotes Software Corp."}]}, "mark": {"type": "text", "align": "left", "baseline": "middle", "dx": 88, "font": "Liberation Sans", "fontSize": 6, "color": "#c8c8c8"},
       "encoding": {
         "x": {"datum": 0, "type": "quantitative", "scale": {"domain": [-0.8, 242.4], "nice": false, "zero": false}, "axis": null},
         "y": {"datum": 0.5, "type": "quantitative", "scale": {"domain": [0, 1], "nice": false, "zero": false}, "axis": null},
         "text": {"field": "t"}}}
    ]
  }
]
}
